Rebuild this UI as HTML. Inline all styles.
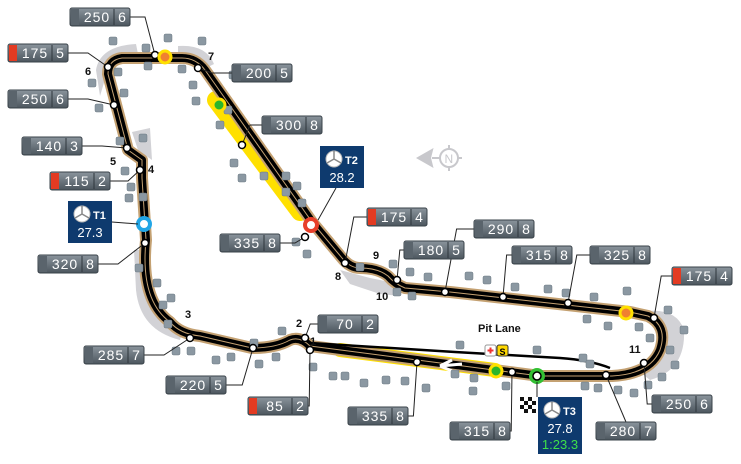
<!DOCTYPE html>
<html><head><meta charset="utf-8"><style>
html,body{margin:0;padding:0;background:#fff;}
svg{display:block;font-family:"Liberation Sans",sans-serif;}
</style></head><body>
<svg id="s" width="741" height="464" viewBox="0 0 741 464" xmlns="http://www.w3.org/2000/svg">
<defs>
<linearGradient id="bx" x1="0" y1="0" x2="0" y2="1"><stop offset="0" stop-color="#8a949c"/><stop offset="1" stop-color="#4c565e"/></linearGradient>
</defs>
<g fill="#d2d2d6">
<path d="M96 70 Q100 46 136 44 L138 54 Q112 56 106 76 L100 96 Z"/>
<path d="M178 46 Q206 44 214 64 L202 70 Q196 58 178 56 Z"/>
<path d="M132 132 L150 128 L152 160 L138 150 Z"/>
<path d="M134 250 L142 250 L146 290 Q150 320 182 332 L180 340 Q140 330 136 290 Z"/>
<path d="M340 270 L370 278 L390 282 L400 296 L380 294 L350 284 Z"/>
<path d="M640 312 Q676 306 684 330 Q686 370 650 380 L640 372 Q668 360 664 330 Q660 318 640 318 Z"/>
</g>
<g fill="none" stroke="#ffe000" stroke-linecap="round">
<path d="M216 100 L300 212" stroke-width="18"/>
<path d="M340 350 L495 370" stroke-width="14"/>
</g>
<g id="trkg" fill="none" stroke-linejoin="round" stroke-linecap="round"></g>
<path d="M310 343 L455 352 L560 358 Q590 360 610 368" fill="none" stroke="#000" stroke-width="2.5"/>
<path d="M440 366 L462 364 M440 366 L452 360 M440 366 L452 371" stroke="#fff" stroke-width="3" fill="none"/>
<g id="sq" fill="#8b98a2" stroke="#6d7a84" stroke-width="0.5"></g>
<g id="ld" stroke="#222" stroke-width="1" fill="none"></g>
<g id="bxs"></g>
<g id="dots" fill="#fff" stroke="#000" stroke-width="1.5"></g>
<g font-size="11" font-weight="bold" fill="#111">
<text x="85" y="75">6</text><text x="208" y="60">7</text><text x="110" y="165">5</text><text x="148" y="173">4</text>
<text x="185" y="318">3</text><text x="296" y="327">2</text><text x="310" y="345">1</text>
<text x="335" y="280">8</text><text x="373" y="259">9</text><text x="376" y="300">10</text><text x="629" y="353">11</text>
<text x="478" y="332">Pit Lane</text>
</g>
<circle cx="165" cy="57" r="6" fill="#f08030" stroke="#ffe000" stroke-width="3"/>
<circle cx="219" cy="105" r="6" fill="#2bb52b" stroke="#ffe000" stroke-width="3"/>
<circle cx="626" cy="313" r="6" fill="#f08030" stroke="#ffe000" stroke-width="3"/>
<circle cx="496" cy="371" r="6" fill="#2bb52b" stroke="#ffe000" stroke-width="3"/>
<circle cx="144" cy="224" r="6" fill="#fff" stroke="#22a6e6" stroke-width="4"/>
<circle cx="311" cy="225" r="6" fill="#fff" stroke="#e8402a" stroke-width="4"/>
<circle cx="537" cy="376" r="6" fill="#fff" stroke="#33c033" stroke-width="4"/>
<circle cx="537" cy="376" r="4" fill="none" stroke="#000" stroke-width="1.5"/>
<rect x="485" y="345" width="11" height="11" rx="2" fill="#fff" stroke="#999"/>
<path d="M490.5 347.5v6M487.5 350.5h6" stroke="#e33" stroke-width="2"/>
<rect x="497" y="345" width="11" height="11" rx="2" fill="#ffd800" stroke="#333"/>
<text x="499.5" y="355" font-size="9" font-weight="bold">S</text>
<g stroke="#c8c8cc" fill="none" stroke-width="2">
<circle cx="449" cy="158" r="9"/>
<path d="M449 145v4M449 167v4M462 158h-4"/>
<path d="M418 158 L432 150 L430 158 L432 166 Z" fill="#c8c8cc"/>
<path d="M432 158 H440"/>
</g>
<text x="444.5" y="163" font-size="12" fill="#c8c8cc">N</text>
<g id="tb"></g>
<g>
<rect x="520" y="397" width="16" height="16" fill="#fff"/>
<path d="M520 397h4v4h-4zM528 397h4v4h-4zM524 401h4v4h-4zM532 401h4v4h-4zM520 405h4v4h-4zM528 405h4v4h-4zM524 409h4v4h-4zM532 409h4v4h-4z" fill="#111"/>
</g>
</svg>
<script>
var NS="http://www.w3.org/2000/svg";
function el(p,t,a,tx){var e=document.createElementNS(NS,t);for(var k in a)e.setAttribute(k,a[k]);if(tx!=null)e.textContent=tx;document.getElementById(p).appendChild(e);return e;}
var TD="M540 376 L612 376 Q650 374 660 350 Q668 326 648 316 L630 312 L450 292 L405 288 Q395 284 388 276 Q378 268 360 268 Q350 268 342 258 L312 222 L205 70 Q196 58 182 58 L122 58 Q108 60 108 74 L128 150 L142 160 L142 178 L146 240 Q140 300 170 322 Q180 334 200 336 L252 348 Q276 348 290 340 Q300 336 310 346 L540 376";
el("trkg","path",{d:TD,stroke:"#c4a172","stroke-width":12});
el("trkg","path",{d:TD,stroke:"#000","stroke-width":8});
el("trkg","path",{d:TD,stroke:"#c4a172","stroke-width":1});
var sq=[[113,41],[168,38],[202,41],[146,48],[148,66],[182,69],[92,83],[118,72],[124,93],[99,108],[143,138],[125,171],[131,187],[129,198],[193,85],[196,101],[228,110],[233,75],[220,125],[234,163],[242,178],[264,176],[286,176],[297,186],[286,192],[302,203],[296,242],[307,254],[360,267],[393,264],[410,272],[397,292],[412,296],[428,277],[469,276],[487,280],[515,287],[548,289],[566,293],[594,297],[627,291],[587,319],[608,326],[639,327],[650,338],[668,310],[684,330],[670,350],[662,377],[675,365],[583,358],[590,364],[585,386],[598,388],[618,390],[634,393],[648,385],[537,350],[460,345],[455,374],[474,378],[473,391],[506,386],[426,388],[405,381],[386,380],[364,383],[345,376],[333,376],[313,367],[276,357],[259,364],[231,357],[216,360],[191,351],[176,351],[168,324],[163,305],[171,298],[139,268],[143,197],[120,141],[157,283],[254,343],[282,331]];
sq.forEach(function(p){el("sq","rect",{x:p[0]-4,y:p[1]-4,width:8,height:8,rx:1.5});});
var B=[
[70,8,"250","6",0,155,55],[8,44,"175","5",1,108,67],[232,64,"200","5",0,198,68],[8,90,"250","6",0,114,105],
[262,116,"300","8",0,242,145],[22,137,"140","3",0,127,148],[50,172,"115","2",1,140,170],[220,234,"335","8",0,305,237],
[367,208,"175","4",1,345,263],[404,241,"180","5",0,397,280],[474,220,"290","8",0,445,292],[512,246,"315","8",0,503,297],
[590,246,"325","8",0,568,303],[672,267,"175","4",1,654,318],[38,255,"320","8",0,145,243],[318,315,"70","2",0,305,338],
[84,346,"285","7",0,190,338],[166,376,"220","5",0,253,348],[248,397,"85","2",1,310,350],[348,407,"335","8",0,417,362],
[450,422,"315","8",0,512,372],[596,422,"280","7",0,606,375],[652,395,"250","6",0,644,363]];
B.forEach(function(b){
 var x=b[0],y=b[1],cx=x+30,cy=y+9;
 var lx=b[5],ly=b[6];
 var sx=(lx>cx+30)?x+60:(lx<x?x:cx), sy=(lx>=x&&lx<=x+60)?(ly>cy?y+18:y):cy;
 var d;
 if(sy==cy) d="M"+sx+" "+sy+" H"+(sx+(lx>sx?Math.min(20,(lx-sx)*0.6):-Math.min(20,(sx-lx)*0.6)))+" L"+lx+" "+ly;
 else d="M"+sx+" "+sy+" L"+lx+" "+ly;
 el("ld","path",{d:d});
 el("bxs","rect",{x:x,y:y,width:60,height:18,rx:2,fill:"url(#bx)",stroke:"#3a434a"});
 el("bxs","rect",{x:x+1,y:y+1,width:8,height:16,fill:b[4]?"#e33b22":"#5a646c"});
 el("bxs","line",{x1:x+44,y1:y+1,x2:x+44,y2:y+17,stroke:"#2e363c"});
 el("bxs","text",{x:x+27,y:y+14,"font-size":14,fill:"#fff","text-anchor":"middle","letter-spacing":"1"},b[2]);
 el("bxs","text",{x:x+52,y:y+14,"font-size":14,fill:"#fff","text-anchor":"middle"},b[3]);
 el("dots","circle",{cx:lx,cy:ly,r:3.5});
});
function tbox(x,y,h,lab,t,t2,seg){
 el("tb","line",{x1:seg[0],y1:seg[1],x2:seg[2],y2:seg[3],stroke:"#222"});
 el("tb","rect",{x:x,y:y,width:44,height:h,fill:"#0e3a6e"});
 el("tb","circle",{cx:x+14,cy:y+13,r:8,fill:"#fff",stroke:"#bbb"});
 el("tb","path",{d:"M"+(x+14)+" "+(y+13)+"v-8M"+(x+14)+" "+(y+13)+"l-7 4M"+(x+14)+" "+(y+13)+"l7 4",stroke:"#888","stroke-width":1.5});
 el("tb","text",{x:x+25,y:y+18,"font-size":11,fill:"#fff","font-weight":"bold"},lab);
 el("tb","text",{x:x+22,y:y+36,"font-size":13,fill:"#fff","text-anchor":"middle"},t);
 if(t2)el("tb","text",{x:x+22,y:y+52,"font-size":13,fill:"#3ee04a","text-anchor":"middle"},t2);
}
tbox(68,201,42,"T1","27.3",null,[112,222,138,224]);
tbox(320,146,42,"T2","28.2",null,[336,188,318,220]);
tbox(538,397,57,"T3","27.8","1:23.3",[537,382,537,397]);
</script>
</body></html>
